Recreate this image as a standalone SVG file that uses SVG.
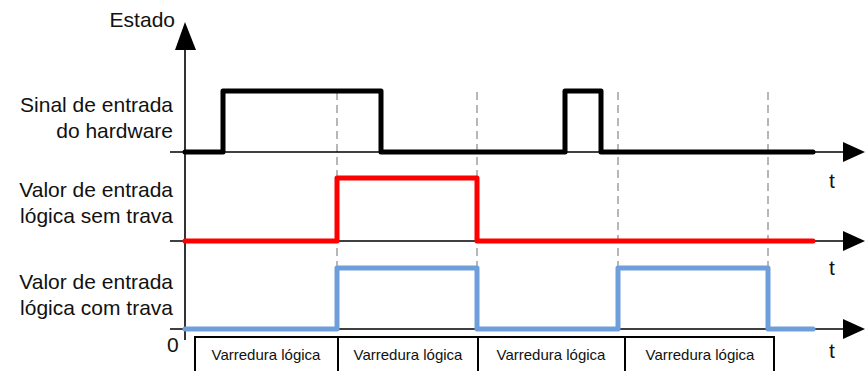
<svg xmlns="http://www.w3.org/2000/svg" width="865" height="371" viewBox="0 0 865 371">
<style>
.lbl{font-family:"Liberation Sans",Arial,sans-serif;font-size:21px;fill:#111;}
.lr{text-anchor:end;}
.scan{font-family:"Liberation Sans",Arial,sans-serif;font-size:15px;fill:#111;text-anchor:middle;}
.axis{stroke:#000;stroke-width:1.6;fill:none;}
.dash{stroke:#888;stroke-width:1.2;stroke-dasharray:8 5;fill:none;}
.sig{fill:none;stroke-width:5;stroke-linejoin:round;stroke-linecap:round;}
.box{stroke:#000;stroke-width:2;fill:none;}
</style>
<rect width="865" height="371" fill="#fff"/>
<g id="grid">
<line class="dash" x1="337" y1="92" x2="337" y2="329"/>
<line class="dash" x1="477" y1="92" x2="477" y2="329"/>
<line class="dash" x1="618" y1="92" x2="618" y2="329"/>
<line class="dash" x1="768" y1="92" x2="768" y2="329"/>
</g>
<g id="axes">
<line class="axis" x1="185" y1="45" x2="185" y2="340"/>
<polygon points="185,22 175,50 196,50" fill="#000"/>
<line class="axis" x1="170" y1="152" x2="845" y2="152"/>
<polygon points="865,152 843,142 843,162" fill="#000"/>
<line class="axis" x1="170" y1="241" x2="845" y2="241"/>
<polygon points="865,241 843,231 843,251" fill="#000"/>
<line class="axis" x1="170" y1="329" x2="845" y2="329"/>
<polygon points="865,329 843,319 843,339" fill="#000"/>
</g>
<g id="signals">
<polyline id="hw" class="sig" stroke="#000" points="185,152 223,152 223,91 381,91 381,152 565,152 565,91 601,91 601,152 813,152"/>
<polyline id="sem-trava" class="sig" stroke="#ff0000" points="185,241 337,241 337,178 477,178 477,241 813,241"/>
<polyline id="com-trava" class="sig" stroke="#6f9fdb" points="185,329 337,329 337,268 477,268 477,329 618,329 618,268 768,268 768,329 813,329"/>
</g>
<g id="labels">
<text class="lbl lr" x="175" y="27">Estado</text>
<text class="lbl lr" x="173" y="112">Sinal de entrada</text>
<text class="lbl lr" x="173" y="138">do hardware</text>
<text class="lbl lr" x="173" y="197">Valor de entrada</text>
<text class="lbl lr" x="173" y="223">lógica sem trava</text>
<text class="lbl lr" x="173" y="289">Valor de entrada</text>
<text class="lbl lr" x="173" y="315">lógica com trava</text>
<text class="lbl" x="829" y="188">t</text>
<text class="lbl" x="829" y="275">t</text>
<text class="lbl" x="829" y="358">t</text>
<text class="lbl" x="167" y="352">0</text>
</g>
<g id="scans">
<polyline class="box" points="195,371 195,337 774,337 774,371"/>
<line class="box" x1="338" y1="337" x2="338" y2="371"/>
<line class="box" x1="478" y1="337" x2="478" y2="371"/>
<line class="box" x1="625" y1="337" x2="625" y2="371"/>
<text class="scan" x="266" y="360">Varredura lógica</text>
<text class="scan" x="408" y="360">Varredura lógica</text>
<text class="scan" x="551" y="360">Varredura lógica</text>
<text class="scan" x="700" y="360">Varredura lógica</text>
</g>
</svg>
